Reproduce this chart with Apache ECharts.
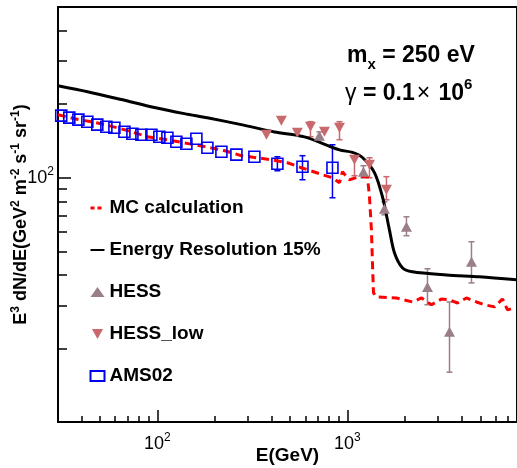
<!DOCTYPE html>
<html>
<head>
<meta charset="utf-8">
<script src="https://cdn.jsdelivr.net/npm/echarts@6/dist/echarts.min.js"></script>
<style>html,body{margin:0;padding:0;background:#fff}#main{width:517px;height:468px}</style>
</head>
<body>
<div id="main"></div>
<script>
// Energy resolution 15% curve
const resE = [30, 42.9, 64.7, 96.4, 138.7, 183, 276, 413, 594, 908, 1062, 1199, 1387, 1528, 1663, 1767, 1946, 2196, 3318, 4952, 7745]
const resF = [238, 225, 209, 194, 183, 176, 165, 154, 147, 130, 127, 121, 105, 83.6, 61.2, 49.3, 42.8, 41.2, 40.0, 39.3, 38.2]
// MC calculation
const mcE = [30, 36.6, 50.7, 67.1, 88.6, 120, 156.6, 217, 277, 398, 483, 573, 739, 834, 908, 941, 1024, 1157, 1274, 1306, 1337, 1354, 1371, 1421, 1811, 2198, 2452, 2768, 3124, 3443, 3793, 4229, 4775, 5262, 5939, 6542, 6952, 7565]
const mcF = [181, 174.5, 166.4, 157.3, 147.2, 141.8, 136.5, 130.2, 123.1, 118.5, 115.2, 109.9, 102.9, 100, 95.4, 105.8, 98.1, 101, 101, 83.6, 61.2, 44.8, 33.8, 32.5, 32.2, 31.0, 32.2, 30.2, 31.9, 31.6, 30.7, 32.2, 31.0, 30.2, 29.6, 31.9, 28.8, 29.3]
// AMS02
const amsE = [31.2, 34.4, 38.4, 42.8, 48.3, 53.9, 59.4, 67.1, 73.9, 82.4, 93.0, 102.4, 112.9, 125.9, 142.1, 160.4, 183.3, 217.2, 260.5, 323.9, 428, 580, 834]
const amsF = [179.6, 176.2, 172.9, 169.6, 164.9, 161.8, 160.3, 154.3, 151.4, 150.0, 150.0, 147.2, 145.8, 140.4, 137.8, 144.5, 132.7, 127.8, 124.3, 121.9, 114.1, 110.9, 109.9]
const amsErrE = [428, 580, 834]
const amsErrLo = [106.8, 98.1, 82.8]
const amsErrHi = [121.9, 123.1, 136.5]
// HESS
const hessE = [712, 1214, 1565, 2044, 2637, 3443, 4494]
const hessF = [148.6, 105.8, 74.6, 63.0, 35.7, 23.4, 45.3]
const hessLo = [143, 100, 70.5, 57.9, 30.2, 16.0, 37.1]
const hessHi = [154, 112, 79.7, 69.2, 42.4, 31.0, 54.7]
// HESS_low
const lowE = [375, 449, 545, 639, 757, 908, 1089, 1306, 1604]
const lowF = [150, 171.2, 152.9, 161.8, 154.3, 160.3, 118.5, 113.1, 89.3]
const lowLo = [null, null, null, 147.2, null, 143.1, 101.9, 100, 81.2]
const lowHi = [null, null, null, 169.6, null, 169.6, 121.9, 120.7, 101]
// ticks
const xMajor = [100, 1000]
const xMinor = [40, 50, 60, 70, 80, 90, 200, 300, 400, 500, 600, 700, 800, 900, 2000, 3000, 4000, 5000, 6000, 7000]
const yMajor = [100]
const yMinor = [20, 30, 40, 50, 60, 70, 80, 90, 200, 300, 400]

const font = 'Liberation Sans, Arial, sans-serif'
const hessColor = '#9a7e88'
const lowColor = '#c9686d'
const amsColor = '#0000ee'

const pairs = (xs, ys) => xs.map((x, i) => [x, ys[i]])
const errs = (xs, lo, hi) => xs.map((x, i) => [x, lo[i], hi[i]]).filter(d => d[1] != null)

function errRender(color) {
    return function (params, api) {
        let x = api.value(0)
        let a = api.coord([x, api.value(1)])
        let b = api.coord([x, api.value(2)])
        let w = 3
        let st = { stroke: color, lineWidth: 1.5 }
        return {
            type: 'group',
            children: [
                { type: 'line', shape: { x1: a[0], y1: a[1], x2: b[0], y2: b[1] }, style: st },
                { type: 'line', shape: { x1: a[0] - w, y1: a[1], x2: a[0] + w, y2: a[1] }, style: st },
                { type: 'line', shape: { x1: b[0] - w, y1: b[1], x2: b[0] + w, y2: b[1] }, style: st }
            ]
        }
    }
}

const supLabel = v => '{n|10}{s|' + Math.round(Math.log10(v)) + '}'
const labelRich = {
    n: { fontSize: 18, fontFamily: font, color: '#000', lineHeight: 24 },
    s: { fontSize: 12, fontFamily: font, color: '#000', verticalAlign: 'top', lineHeight: 12 }
}

let chart = echarts.init(document.getElementById('main'))
let option = {
    animation: false,
    grid: { left: 58, top: 7, right: 0, bottom: 46, show: true, borderColor: '#000', borderWidth: 2, outerBoundsMode: 'none', containLabel: false },
    xAxis: [
        {
            type: 'log', min: 30, max: 7800,
            axisLine: { show: true, lineStyle: { color: '#000', width: 2 } },
            axisTick: { inside: true, length: 12, customValues: xMajor, lineStyle: { color: '#000', width: 1.5 } },
            axisLabel: { customValues: xMajor, formatter: supLabel, rich: labelRich, margin: 10 },
            splitLine: { show: false },
            name: 'E(GeV)', nameLocation: 'middle', nameGap: 24, nameMoveOverlap: false,
            nameTextStyle: { fontSize: 19, fontWeight: 'bold', fontFamily: font, color: '#000' }
        },
        {
            type: 'log', min: 30, max: 7800, position: 'bottom',
            axisLine: { show: false },
            axisTick: { inside: true, length: 6, customValues: xMinor, lineStyle: { color: '#000', width: 1.5 } },
            axisLabel: { show: false },
            splitLine: { show: false }
        }
    ],
    yAxis: [
        {
            type: 'log', min: 10, max: 500,
            axisLine: { show: true, lineStyle: { color: '#000', width: 2 } },
            axisTick: { inside: true, length: 13, customValues: yMajor, lineStyle: { color: '#000', width: 1.5 } },
            axisLabel: { customValues: yMajor, formatter: supLabel, rich: labelRich, margin: 4 },
            splitLine: { show: false },
            name: '{b|E}{s|3}{b| dN/dE(GeV}{s|2}{b| m}{s|-2}{b| s}{s|-1}{b| sr}{s|-1}{b|)}',
            nameLocation: 'middle', nameGap: 26, nameRotate: 90, nameMoveOverlap: false,
            nameTextStyle: {
                rich: {
                    b: { fontSize: 18, fontWeight: 'bold', fontFamily: font, color: '#000', lineHeight: 22 },
                    s: { fontSize: 12, fontWeight: 'bold', fontFamily: font, color: '#000', verticalAlign: 'top', lineHeight: 12 }
                }
            }
        },
        {
            type: 'log', min: 10, max: 500, position: 'left',
            axisLine: { show: false },
            axisTick: { inside: true, length: 9, customValues: yMinor, lineStyle: { color: '#000', width: 1.5 } },
            axisLabel: { show: false },
            splitLine: { show: false }
        }
    ],
    legend: {
        orient: 'vertical', left: 84, top: 193, itemWidth: 14, itemHeight: 10, itemGap: 22,
        textStyle: { fontSize: 19, fontWeight: 'bold', fontFamily: font, color: '#000', lineHeight: 20 },
        data: [
            { name: 'MC calculation', lineStyle: { type: [4, 3], width: 3 }, itemStyle: { opacity: 0 } },
            { name: 'Energy Resolution 15%', itemStyle: { opacity: 0 } },
            'HESS', 'HESS_low', 'AMS02'
        ]
    },
    graphic: [
        {
            type: 'text', x: 347, y: 56,
            style: {
                text: '{b|m}{sub|x}{b| = 250 eV}', verticalAlign: 'middle',
                rich: {
                    b: { fontSize: 23, fontWeight: 'bold', fontFamily: font, fill: '#000', lineHeight: 32 },
                    sub: { fontSize: 15, fontWeight: 'bold', fontFamily: font, fill: '#000', verticalAlign: 'bottom', lineHeight: 15 }
                }
            }
        },
        {
            type: 'text', x: 345, y: 94,
            style: {
                text: '{g|γ}{b| = 0.1}{t|×}{b| 10}{sup|6}', verticalAlign: 'middle',
                rich: {
                    g: { fontSize: 23, fontFamily: font, fill: '#000', lineHeight: 34 },
                    b: { fontSize: 23, fontWeight: 'bold', fontFamily: font, fill: '#000', lineHeight: 34 },
                    t: { fontSize: 23, fontFamily: font, fill: '#000', lineHeight: 34, padding: [0, 2, 0, 2] },
                    sup: { fontSize: 15, fontWeight: 'bold', fontFamily: font, fill: '#000', verticalAlign: 'top', lineHeight: 15 }
                }
            }
        }
    ],
    series: [
        {
            name: 'MC calculation', type: 'line', symbol: 'none', z: 3,
            lineStyle: { color: '#ff0000', width: 3, type: [8, 5] },
            itemStyle: { color: '#ff0000' },
            data: pairs(mcE, mcF)
        },
        {
            name: 'Energy Resolution 15%', type: 'line', symbol: 'none', smooth: 0.3, z: 4,
            lineStyle: { color: '#000', width: 3 },
            itemStyle: { color: '#000' },
            data: pairs(resE, resF)
        },
        {
            name: 'HESS err', type: 'custom', renderItem: errRender(hessColor), z: 2,
            encode: { x: 0, y: [1, 2] }, data: errs(hessE, hessLo, hessHi)
        },
        {
            name: 'HESS', type: 'scatter', symbol: 'triangle', symbolSize: [11, 10], z: 5,
            itemStyle: { color: hessColor, opacity: 1 },
            data: pairs(hessE, hessF)
        },
        {
            name: 'HESS_low err', type: 'custom', renderItem: errRender(lowColor), z: 2,
            encode: { x: 0, y: [1, 2] }, data: errs(lowE, lowLo, lowHi)
        },
        {
            name: 'HESS_low', type: 'scatter', symbol: 'path://M0,0L10,0L5,9Z', symbolSize: [11, 10], z: 5,
            itemStyle: { color: lowColor, opacity: 1 },
            data: pairs(lowE, lowF)
        },
        {
            name: 'AMS err', type: 'custom', renderItem: errRender(amsColor), z: 2,
            encode: { x: 0, y: [1, 2] }, data: errs(amsErrE, amsErrLo, amsErrHi)
        },
        {
            name: 'AMS02', type: 'scatter', symbol: 'rect', symbolSize: 11, z: 5,
            itemStyle: { color: 'rgba(0,0,0,0)', borderColor: amsColor, borderWidth: 1.6, opacity: 1 },
            data: pairs(amsE, amsF)
        }
    ]
}
chart.setOption(option)
</script>
</body>
</html>
